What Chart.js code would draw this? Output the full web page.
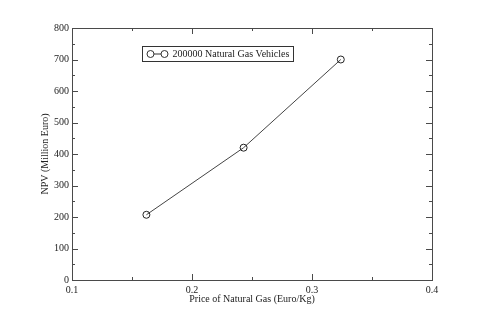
<!DOCTYPE html>
<html>
<head>
    <meta charset="UTF-8">
    <title>NPV vs Natural Gas Price</title>
    <script src="https://cdn.jsdelivr.net/npm/chart.js"></script>
    <style>
        body { margin: 0; background: #fff; }
    </style>
</head>
<body>
<div style="width: 479px; height: 321px;">
    <canvas id="myChart"></canvas>
</div>

<script>
    // data
    const gasPrice = [0.162, 0.243, 0.324];
    const npv = [207, 420, 700];
    const seriesLabel = '200000 Natural Gas Vehicles';
    const xTitle = 'Price of Natural Gas (Euro/Kg)';
    const yTitle = 'NPV (Million Euro)';

    Chart.defaults.font.family = 'Liberation Serif';
    Chart.defaults.font.size = 10;
    Chart.defaults.color = '#222';

    // box + inward major/minor ticks on all four sides
    const frameTicks = {
        id: 'frameTicks',
        afterDraw(chart) {
            const ctx = chart.ctx;
            const a = chart.chartArea;
            const xs = chart.scales.x, ys = chart.scales.y;
            ctx.save();
            ctx.strokeStyle = '#4a4a4a';
            ctx.lineWidth = 1;

            const xv = xs.ticks.map(t => t.value);
            const yv = ys.ticks.map(t => t.value);
            const mid = arr => arr.slice(1).map((v, i) => (v + arr[i]) / 2);

            function xTick(v, len) {
                const px = Math.round(xs.getPixelForValue(v)) + 0.5;
                ctx.beginPath();
                ctx.moveTo(px, a.bottom); ctx.lineTo(px, a.bottom - len);
                ctx.moveTo(px, a.top); ctx.lineTo(px, a.top + len);
                ctx.stroke();
            }
            function yTick(v, len) {
                const py = Math.round(ys.getPixelForValue(v)) + 0.5;
                ctx.beginPath();
                ctx.moveTo(a.left, py); ctx.lineTo(a.left + len, py);
                ctx.moveTo(a.right, py); ctx.lineTo(a.right - len, py);
                ctx.stroke();
            }
            xv.slice(1, -1).forEach(v => xTick(v, 6));
            mid(xv).forEach(v => xTick(v, 3));
            yv.slice(1, -1).forEach(v => yTick(v, 6));
            mid(yv).forEach(v => yTick(v, 3));

            ctx.strokeRect(Math.round(a.left) + 0.5, Math.round(a.top) + 0.5,
                Math.round(a.right - a.left), Math.round(a.bottom - a.top));
            ctx.restore();
        }
    };

    // boxed legend inside the plot area
    const boxLegend = {
        id: 'boxLegend',
        afterDraw(chart) {
            const ctx = chart.ctx;
            const a = chart.chartArea;
            const x = a.left + 70.5, y = a.top + 18.5;
            const w = 151, h = 15;
            ctx.save();
            ctx.strokeStyle = '#333';
            ctx.lineWidth = 1;
            ctx.strokeRect(x, y, w, h);
            const cy = y + h / 2;
            ctx.beginPath();
            ctx.moveTo(x + 8, cy); ctx.lineTo(x + 22, cy);
            ctx.stroke();
            [x + 8, x + 22].forEach(cx => {
                ctx.beginPath();
                ctx.arc(cx, cy, 3.5, 0, Math.PI * 2);
                ctx.fillStyle = '#fff';
                ctx.fill();
                ctx.stroke();
            });
            ctx.fillStyle = '#222';
            ctx.font = '10px "Liberation Serif"';
            ctx.textBaseline = 'middle';
            ctx.fillText(chart.data.datasets[0].label, x + 30, cy + 0.5);
            ctx.restore();
        }
    };

    const data = {
        datasets: [{
            label: seriesLabel,
            data: gasPrice.map((p, i) => ({x: p, y: npv[i]})),
            borderColor: '#444',
            borderWidth: 1,
            pointRadius: 3.5,
            pointHoverRadius: 3.5,
            pointBorderColor: '#222',
            pointBorderWidth: 1,
            pointBackgroundColor: 'rgba(255,255,255,0)',
            tension: 0
        }]
    };

    const config = {
        type: 'line',
        data: data,
        options: {
            responsive: true,
            maintainAspectRatio: false,
            animation: false,
            layout: {
                padding: {left: 32, top: 28, right: 47, bottom: 0}
            },
            plugins: {
                legend: {display: false},
                tooltip: {enabled: false}
            },
            scales: {
                x: {
                    type: 'linear',
                    min: 0.1,
                    max: 0.4,
                    grid: {display: false, drawTicks: false},
                    border: {display: false},
                    ticks: {
                        stepSize: 0.1,
                        padding: 4,
                        maxRotation: 0,
                        callback: v => v.toFixed(1)
                    },
                    title: {
                        display: true,
                        text: xTitle,
                        padding: {top: 0, bottom: 16}
                    },
                    afterFit: s => { s.height = 41; }
                },
                y: {
                    min: 0,
                    max: 800,
                    grid: {display: false, drawTicks: false},
                    border: {display: false},
                    ticks: {
                        stepSize: 100,
                        padding: 3
                    },
                    title: {
                        display: true,
                        text: yTitle,
                        padding: {top: 7, bottom: 0}
                    },
                    afterFit: s => { s.width = 40; }
                }
            }
        },
        plugins: [frameTicks, boxLegend]
    };

    const chart = new Chart(
        document.getElementById('myChart'),
        config
    );
</script>
</body>
</html>
